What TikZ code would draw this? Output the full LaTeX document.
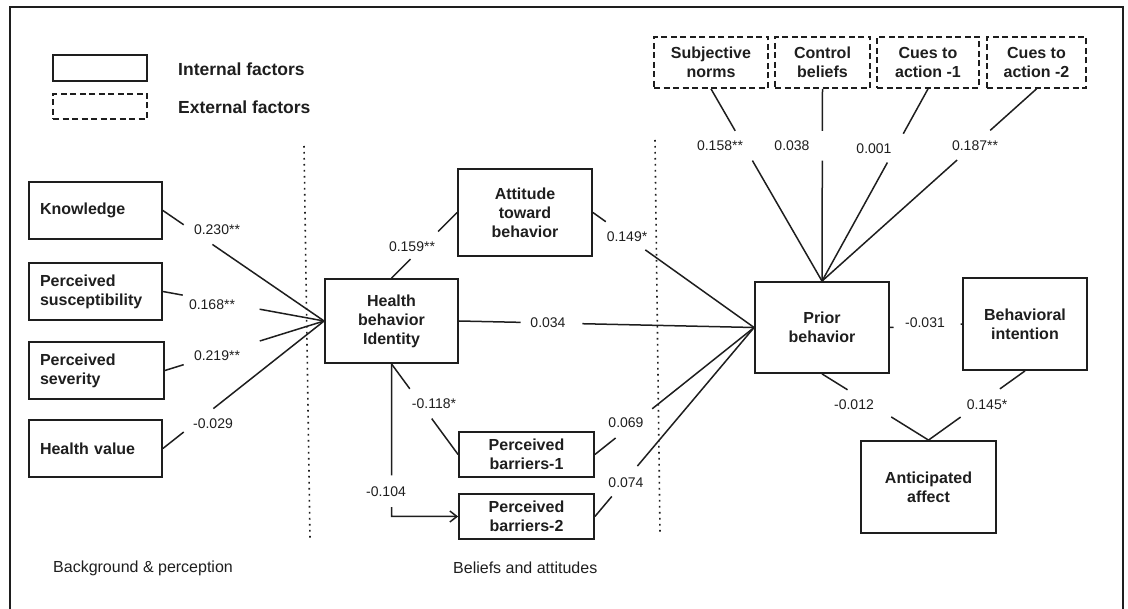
\documentclass[tikz,border=0pt]{standalone}
\usepackage{fontspec}
\setmainfont{Liberation Sans}
\usetikzlibrary{calc,arrows.meta}
\definecolor{ink}{HTML}{1E1E1E}
\newcommand{\gapedge}[4]{\draw[conn] (#1) -- ($(#1)!#3!(#2)$) ($(#1)!#4!(#2)$) -- (#2);}
\tikzset{
  box/.style={draw=ink, line width=1.8pt, inner sep=0pt, align=center, text=ink,
    font=\bfseries\fontsize{16pt}{19pt}\selectfont},
  ext/.style={box, dash pattern=on 6pt off 3.5pt},
  leftbox/.style={box, text width=111pt, inner xsep=11pt, align=left, minimum height=57pt},
  lab/.style={inner sep=0pt, text=ink, font=\fontsize{14pt}{16pt}\selectfont},
  leg/.style={inner sep=0pt, anchor=west, text=ink, font=\bfseries\fontsize{17.5pt}{20pt}\selectfont},
  zone/.style={inner sep=0pt, anchor=west, text=ink, font=\fontsize{16pt}{19pt}\selectfont},
  conn/.style={draw=ink, line width=1.5pt},
  sep/.style={draw=ink, line width=1.6pt, dash pattern=on 1.6pt off 4.4pt},
  frame/.style={draw=ink, line width=2pt}
}
\begin{document}
\begin{tikzpicture}[x=1pt,y=-1pt]
\useasboundingbox (0,0) rectangle (1128,609);
\draw[frame] (10,615) -- (10,7) -- (1123,7) -- (1123,615);

% legend
\node[box, minimum width=94pt, minimum height=26pt] (leg1) at (100,68) {};
\node[ext, minimum width=94pt, minimum height=25pt] (leg2) at (100,106.5) {};
\node[leg] (legt1) at (178,69) {Internal factors};
\node[leg] (legt2) at (178,107) {External factors};

% separators
\draw[sep] (304,146) -- (310,539);
\draw[sep] (655,140) -- (660,533);

% left boxes
\node[leftbox] (know) at (95.5,210.5) {Knowledge};
\node[leftbox] (susc) at (95.5,291.5) {Perceived\\susceptibility};
\node[leftbox, text width=113pt] (sev) at (96.5,370.5) {Perceived\\severity};
\node[leftbox] (hv) at (95.5,448.5) {Health value};

% middle boxes
\node[box, minimum width=133pt, minimum height=84pt] (hbi) at (391.5,321) {Health\\behavior\\Identity};
\node[box, minimum width=134pt, minimum height=87pt] (att) at (525,212.5) {Attitude\\toward\\behavior};
\node[box, minimum width=135pt, minimum height=45pt] (pb1) at (526.5,454.5) {Perceived\\barriers-1};
\node[box, minimum width=135pt, minimum height=45pt] (pb2) at (526.5,516.5) {Perceived\\barriers-2};

% right boxes
\node[box, minimum width=134pt, minimum height=91pt] (prior) at (822,327.5) {Prior\\behavior};
\node[box, minimum width=124pt, minimum height=92pt] (bi) at (1025,324) {Behavioral\\intention};
\node[box, minimum width=135pt, minimum height=92pt] (ant) at (928.5,487) {Anticipated\\affect};

% external boxes
\node[ext, minimum width=114pt, minimum height=51pt] (sn) at (711,62.5) {Subjective\\norms};
\node[ext, minimum width=95pt, minimum height=51pt] (cb) at (822.5,62.5) {Control\\beliefs};
\node[ext, minimum width=102pt, minimum height=51pt] (ca1) at (928,62.5) {Cues to\\action -1};
\node[ext, minimum width=99pt, minimum height=51pt] (ca2) at (1036.5,62.5) {Cues to\\action -2};

% zone titles
\node[zone] (z1) at (53,568) {Background \& perception};
\node[zone] (z2) at (453,568) {Beliefs and attitudes};

% labels
\node[lab] (l1) at (217,230) {0.230**};
\node[lab] (l2) at (212,305) {0.168**};
\node[lab] (l3) at (217,356) {0.219**};
\node[lab] (l4) at (213,424) {-0.029};
\node[lab] (l5) at (412,247) {0.159**};
\node[lab] (l6) at (627,237) {0.149*};
\node[lab] (l7) at (548,323) {0.034};
\node[lab] (l8) at (434,404) {-0.118*};
\node[lab] (l9) at (386,492) {-0.104};
\node[lab] (l10) at (626,423) {0.069};
\node[lab] (l11) at (626,483) {0.074};
\node[lab] (l12) at (720,146) {0.158**};
\node[lab] (l13) at (792,146) {0.038};
\node[lab] (l14) at (874,149) {0.001};
\node[lab] (l15) at (975,146) {0.187**};
\node[lab] (l16) at (925,323) {-0.031};
\node[lab] (l17) at (854,405) {-0.012};
\node[lab] (l18) at (987,405) {0.145*};

% connectors
\gapedge{know.east}{hbi.west}{0.129}{0.307}
\gapedge{susc.east}{hbi.west}{0.123}{0.60}
\gapedge{sev.east}{hbi.west}{0.118}{0.596}
\gapedge{hv.east}{hbi.west}{0.129}{0.313}
\gapedge{hbi.north}{att.west}{0.29}{0.71}
\gapedge{att.east}{prior.west}{0.08}{0.325}
\gapedge{hbi.east}{prior.west}{0.209}{0.418}
\gapedge{hbi.south}{pb1.west}{0.275}{0.604}
\coordinate (elb) at (hbi.south |- pb2.west);
\draw[conn] (hbi.south) -- ($(hbi.south)!0.73!(elb)$);
\draw[conn, -{Straight Barb[length=7pt,width=11pt]}] ($(hbi.south)!0.938!(elb)$) -- (elb) -- (pb2.west);
\gapedge{pb1.east}{prior.west}{0.13}{0.36}
\gapedge{pb2.east}{prior.west}{0.106}{0.267}
\gapedge{prior.east}{bi.west}{0.05}{0.98}
\gapedge{prior.south}{ant.north}{0.24}{0.65}
\gapedge{bi.south}{ant.north}{0.26}{0.667}
\gapedge{sn.south}{prior.north}{0.218}{0.373}
\gapedge{cb.south}{prior.north}{0.218}{0.373}
\gapedge{ca1.south}{prior.north}{0.233}{0.383}
\gapedge{ca2.south}{prior.north}{0.216}{0.37}
\end{tikzpicture}
\end{document}
